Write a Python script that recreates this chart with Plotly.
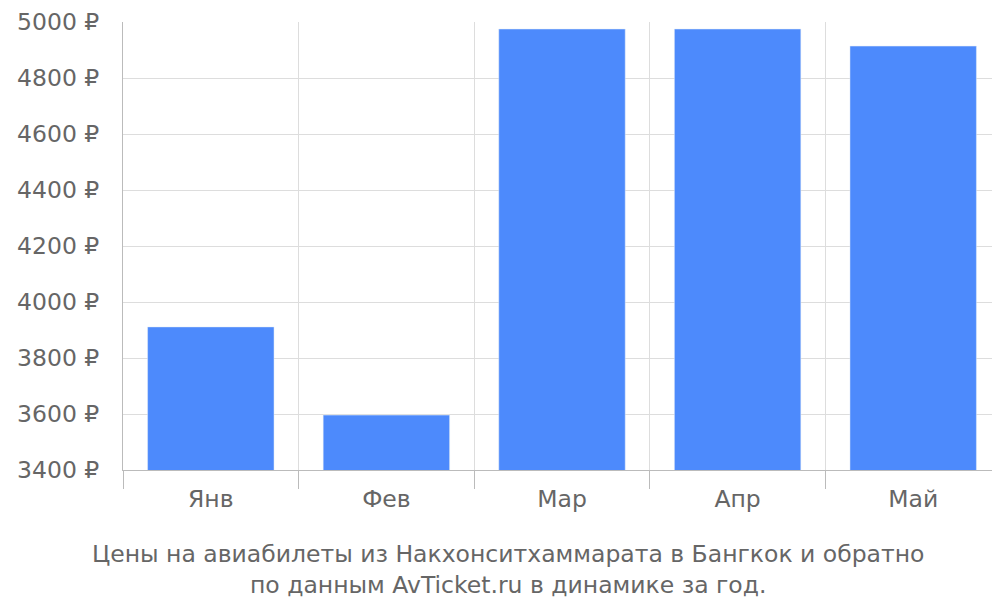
import plotly.graph_objects as go

months = ["Янв", "Фев", "Мар", "Апр", "Май"]
prices = [3911, 3596, 4975, 4975, 4914]

x = list(range(len(months)))
fig = go.Figure(go.Bar(x=x, y=prices, marker_color="#4d8afc", width=0.72))
fig.update_layout(
    width=1000, height=600, plot_bgcolor="white", paper_bgcolor="white",
    margin=dict(l=115, r=7, t=14, b=138, autoexpand=False),
    font=dict(family="DejaVu Sans", size=23.5, color="#666666"),
    showlegend=False,
    xaxis=dict(range=[-0.5, 4.5], tickvals=x, ticktext=months, showgrid=False,
               ticks="", showline=True, linecolor="#bbbbbb", zeroline=False,
               automargin=False, ticklabelstandoff=8,
               minor=dict(tickvals=[i - 0.5 for i in range(6)], showgrid=True,
                          gridcolor="#dddddd", ticks="outside", ticklen=18,
                          tickcolor="#bbbbbb")),
    yaxis=dict(range=[3400, 5000], dtick=200, ticksuffix=" ₽", showgrid=True,
               gridcolor="#dddddd", showline=True, linecolor="#bbbbbb",
               ticks="", automargin=False, ticklabelstandoff=18, zeroline=False),
    annotations=[dict(text="Цены на авиабилеты из Накхонситхаммарата в Бангкок и обратно<br>по данным AvTicket.ru в динамике за год.",
                      xref="paper", yref="paper", x=(500 - 115) / 878, y=0, yshift=-68,
                      yanchor="top", showarrow=False,
                      font=dict(size=23.5, color="#666666"))],
)
fig.write_html("out.html")
